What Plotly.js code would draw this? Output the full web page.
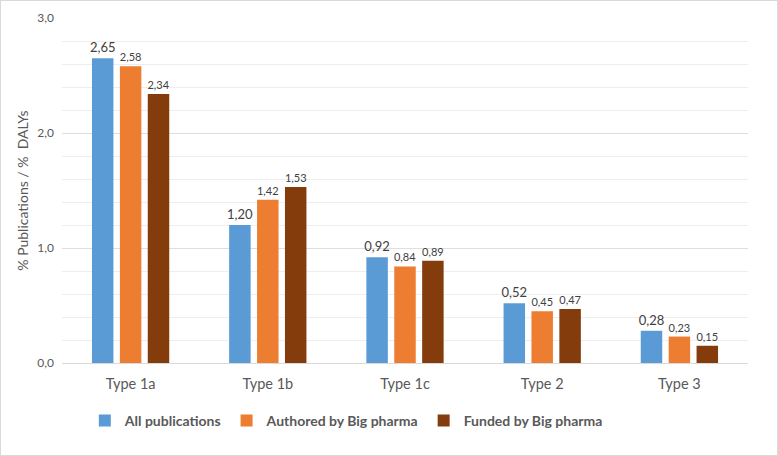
<!DOCTYPE html>
<html>
<head>
<meta charset="utf-8">
<script src="https://cdn.plot.ly/plotly-3.0.1.min.js"></script>
<style>
  html, body { margin: 0; padding: 0; background: #fff; }
  #chart { width: 776px; height: 454px; border: 1px solid #d9d9d9; }
</style>
</head>
<body>
<div id="chart"></div>
<script>
const categories = ["Type 1a", "Type 1b", "Type 1c", "Type 2", "Type 3"];
const allPublications = [2.65, 1.20, 0.92, 0.52, 0.28];
const authoredByBigPharma = [2.58, 1.42, 0.84, 0.45, 0.23];
const fundedByBigPharma = [2.34, 1.53, 0.89, 0.47, 0.15];
const seriesNames = ["All publications", "Authored by Big pharma", "Funded by Big pharma"];
const yTicks = [0, 1, 2, 3];

const FONT = "Lato, 'Open Sans', sans-serif";

function bar(name, values, color, labelSize) {
  return {
    type: "bar",
    name: name,
    x: categories,
    y: values,
    marker: { color: color },
    texttemplate: "%{y:.2f}",
    textposition: "outside",
    constraintext: "none",
    cliponaxis: false,
    textfont: { family: FONT, size: labelSize, color: "#404040" },
    hoverinfo: "x+y"
  };
}

const data = [
  bar(seriesNames[0], allPublications, "#5b9bd5", 13),
  bar(seriesNames[1], authoredByBigPharma, "#ed7d31", 11),
  bar(seriesNames[2], fundedByBigPharma, "#843c0c", 11)
];

const layout = {
  width: 776,
  height: 454,
  margin: { l: 61, r: 29, t: 17, b: 92 },
  paper_bgcolor: "#ffffff",
  plot_bgcolor: "#ffffff",
  separators: ", ",
  font: { family: FONT, color: "#595959", size: 12 },
  barmode: "group",
  bargap: 0.39,
  bargroupgap: 0.23,
  showlegend: true,
  legend: {
    orientation: "h",
    x: 0.445, xanchor: "center", xref: "container",
    y: 0.075, yanchor: "middle", yref: "container",
    font: { family: FONT, size: 14, color: "#595959", weight: "bold" },
    itemwidth: 30,
    traceorder: "normal"
  },
  xaxis: {
    type: "category",
    tickfont: { family: FONT, size: 14.5, color: "#595959" },
    showline: false,
    ticks: "",
    ticklen: 0,
    ticklabelstandoff: 10,
    showgrid: false,
    zeroline: false
  },
  yaxis: {
    range: [0, 3],
    tickvals: yTicks,
    tickformat: ".1f",
    tickfont: { family: FONT, size: 12, color: "#595959" },
    ticks: "",
    ticklabelstandoff: 7,
    showgrid: true,
    gridcolor: "#dedede",
    gridwidth: 1,
    minor: { dtick: 0.2, tick0: 0, showgrid: true, gridcolor: "#eeeeee", gridwidth: 1 },
    zeroline: true,
    zerolinecolor: "#d9d9d9",
    zerolinewidth: 1,
    showline: false,
    title: {
      text: "% Publications / %  DALYs",
      font: { family: FONT, size: 14, color: "#595959" },
      standoff: 5
    }
  }
};

Plotly.newPlot("chart", data, layout, { displayModeBar: false, staticPlot: true });
</script>
</body>
</html>
